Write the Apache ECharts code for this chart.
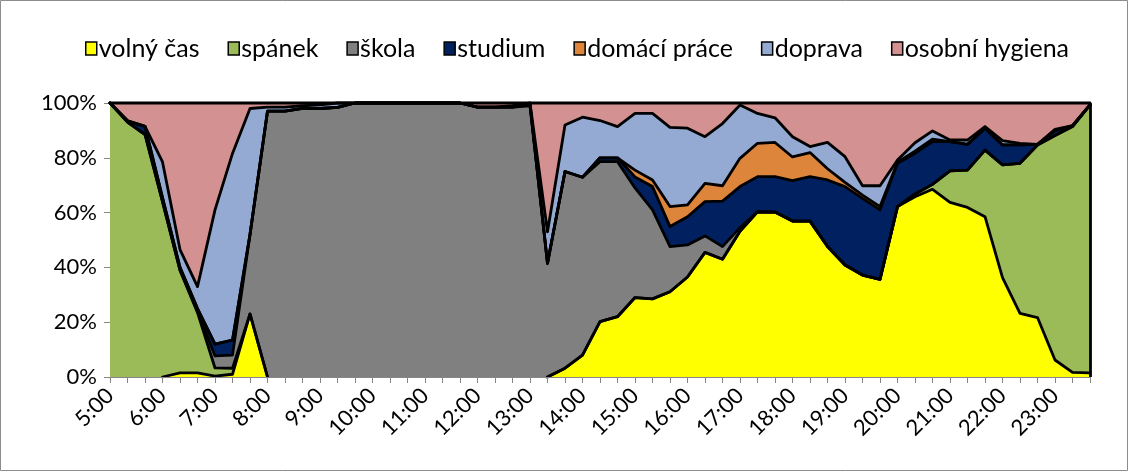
<!DOCTYPE html>
<html>
<head>
<meta charset="utf-8">
<script src="https://cdn.jsdelivr.net/npm/echarts@6/dist/echarts.min.js"></script>
<style>
html,body{margin:0;padding:0;background:#fff;}
#chart{width:1129px;height:472px;}
</style>
</head>
<body>
<div id="chart"></div>
<script>
const categories = ["5:00","5:20","5:40","6:00","6:20","6:40","7:00","7:20","7:40","8:00","8:20","8:40","9:00","9:20","9:40","10:00","10:20","10:40","11:00","11:20","11:40","12:00","12:20","12:40","13:00","13:20","13:40","14:00","14:20","14:40","15:00","15:20","15:40","16:00","16:20","16:40","17:00","17:20","17:40","18:00","18:20","18:40","19:00","19:20","19:40","20:00","20:20","20:40","21:00","21:20","21:40","22:00","22:20","22:40","23:00","23:20","23:40"];

const volnyCas = [0,0,0,0,1.5,1.5,0.3,1,23,0,0,0,0,0,0,0,0,0,0,0,0,0,0,0,0,0,3.2,8,20.2,22,29,28.5,31.1,36.5,45.5,43,53.2,60.3,60.2,56.9,56.9,47.6,40.9,37.2,35.6,62.2,65.8,68.5,63.7,61.9,58.5,36.3,23.2,21.7,6.2,1.7,1.5];
const spanek = [100,93,88.5,64,37.5,22,3,2.2,0,0,0,0,0,0,0,0,0,0,0,0,0,0,0,0,0,0,0,0,0,0,0,0,0,0,0,0,0,0,0,0,0,0,0,0,0,0,1,1.8,11.5,13.6,24.3,41.1,54.8,63,81.9,89.7,97.8];
const skola = [0,0,0,0,0,0.5,4.4,4.8,29,97,97,98,98,98.4,100,100,100,100,100,100,100,98.5,98.5,98.5,99,41.5,71.8,64.9,58.4,56.6,40,32.5,16.5,11.7,6,4.6,1.3,0,0,0,0,0,0,0,0,0,0,0,0,0,0,0,0,0,0,0,0];
const studium = [0,0.5,3,1.5,1,1,4.3,5.5,0,0,0,0,0,0,0,0,0,0,0,0,0,0,0,0,0.5,0,0,0,1.4,1.4,4,8.5,7.3,10.3,12.5,16.6,15,12.8,12.9,14.8,16.2,24.3,28.6,28,25.4,15.8,14.8,15.6,10.7,9.4,8,7.3,6.7,0.2,1.8,0.3,0];
const domaciPrace = [0,0,0,0,0,0,0,0,0,0,0,0,0,0,0,0,0,0,0,0,0,0,0,0,0,0,0,0,0,0,2.5,2.4,7.3,4.3,6.7,5.6,10.3,12.2,12.5,8.6,8.8,4.1,1.5,1.2,1.2,0.4,0.8,0.9,0,0,0,0,0,0,0,0,0];
const doprava = [0,0,0,13,6.5,8,49,68.1,46,1.5,1.5,1,1.3,1.6,0,0,0,0,0,0,0,0,0,0.5,0.5,11.5,17,21.9,13.6,11.4,20.7,24.3,28.9,28,17,22.7,19.5,10.9,9,7.4,2.2,9.6,9.4,3.4,7.6,0.8,3.1,3,0.6,1.6,0.6,1.6,0.6,0,0.5,0,0];
const osobniHygiena = [0,6.5,8.5,21.5,53.5,67,39,18.4,2,1.5,1.5,1,0.7,0,0,0,0,0,0,0,0,1.5,1.5,1,0,47,8,5.2,6.4,8.6,3.8,3.8,8.9,9.2,12.3,7.5,0.7,3.8,5.4,12.3,15.9,14.4,19.6,30.2,30.2,20.8,14.5,10.2,13.5,13.5,8.6,13.7,14.7,15.1,9.6,8.3,0.7];

const seriesNames = ["volný čas","spánek","škola","studium","domácí práce","doprava","osobní hygiena"];
const seriesData = [volnyCas, spanek, skola, studium, domaciPrace, doprava, osobniHygiena];
const colors = ["#FFFF00","#9BBB59","#808080","#002060","#DE853C","#95AAD2","#D49191"];
const yTicks = [0,20,40,60,80,100];

const FONT = "Lato, 'Open Sans', sans-serif";

const chart = echarts.init(document.getElementById('chart'), null, {renderer:'canvas'});

// filled areas (library stacking)
const areaSeries = seriesNames.map((name, k) => ({
  name: name,
  type: 'line',
  stack: 'areas',
  data: seriesData[k],
  symbol: 'none',
  color: colors[k],
  itemStyle: {color: colors[k]},
  lineStyle: {width: 0, opacity: 0},
  areaStyle: {color: colors[k], opacity: 1},
  emphasis: {disabled: true},
  silent: true,
  z: 2
}));

// outline of each layer's top edge, hidden where it lies flat on the x axis
const running = categories.map(() => 0);
const lineSeries = seriesNames.map((name, k) => {
  const cum = seriesData[k].map((v, i) => (running[i] += v));
  const snapshot = cum.slice();
  const data = snapshot.map((c, i) => {
    const prev = i > 0 ? snapshot[i - 1] : 0;
    const next = i < snapshot.length - 1 ? snapshot[i + 1] : 0;
    return (c < 1e-9 && prev < 1e-9 && next < 1e-9) ? '-' : c;
  });
  return {
    name: name,
    type: 'line',
    data: data,
    symbol: 'none',
    connectNulls: false,
    color: colors[k],
    itemStyle: {color: colors[k]},
    lineStyle: {color: '#000', width: 2.8, join: 'round', cap: 'round'},
    emphasis: {disabled: true},
    silent: true,
    clip: false,
    z: 5
  };
});

lineSeries[lineSeries.length - 1].markLine = {
  silent: true,
  symbol: 'none',
  label: {show: false},
  lineStyle: {color: '#000', width: 2.8, type: 'solid'},
  data: [{xAxis: categories[categories.length - 1]}]
};

chart.setOption({
  animation: false,
  backgroundColor: '#fff',
  graphic: [{
    type: 'rect',
    shape: {x: 0.5, y: 0.5, width: 1127, height: 470},
    style: {fill: 'none', stroke: '#8c8c8c', lineWidth: 1},
    silent: true
  }],
  legend: {
    top: 31,
    left: 80,
    icon: 'rect',
    itemWidth: 11,
    itemHeight: 13,
    itemGap: 28,
    itemStyle: {borderColor: '#000', borderWidth: 1.5},
    textStyle: {fontFamily: FONT, fontSize: 25, color: '#000', padding: [0,0,0,-3]},
    data: seriesNames
  },
  grid: {left: 110, right: 39, top: 103, bottom: 95, containLabel: false},
  xAxis: {
    type: 'category',
    boundaryGap: false,
    data: categories,
    z: 10,
    axisLine: {show: true, lineStyle: {color: '#868686', width: 1}},
    axisTick: {show: true, interval: 0, length: 6, lineStyle: {color: '#868686'}},
    axisLabel: {interval: 2, rotate: 45, fontFamily: FONT, fontSize: 22, color: '#000', margin: 15},
    splitLine: {show: false}
  },
  yAxis: {
    type: 'value',
    min: yTicks[0],
    max: yTicks[yTicks.length - 1],
    interval: 20,
    axisLine: {show: true, lineStyle: {color: '#868686', width: 1}},
    axisTick: {show: true, length: 6, lineStyle: {color: '#868686'}},
    axisLabel: {formatter: '{value}%', fontFamily: FONT, fontSize: 22, color: '#000', margin: 13},
    splitLine: {show: false}
  },
  series: areaSeries.concat(lineSeries)
});
</script>
</body>
</html>
